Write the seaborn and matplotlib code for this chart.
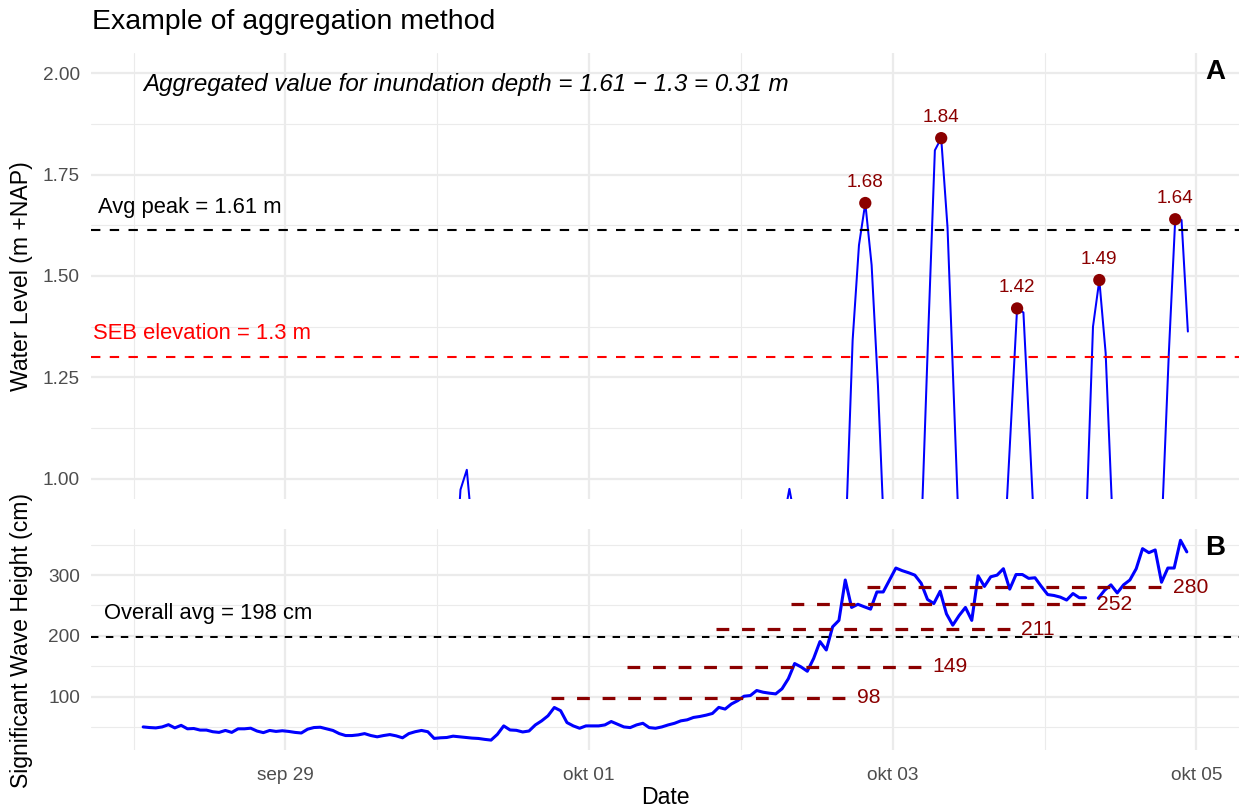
import numpy as np
import pandas as pd
import matplotlib
matplotlib.use("Agg")
import matplotlib.pyplot as plt
import matplotlib.transforms as mtransforms
import seaborn as sns

# ---------------------------------------------------------------------------
# Water level (m +NAP), hourly readings at hh:40, one list per day
# ---------------------------------------------------------------------------
level_start = "2024-09-28 00:40"
level_sep28 = [-0.55, -0.70, -0.45, 0.05, 0.50, 0.70, 0.55, 0.30, 0.05, -0.20, -0.40, -0.60,
               -0.72, -0.50, -0.05, 0.40, 0.68, 0.75, 0.58, 0.32, 0.08, -0.18, -0.40, -0.58]
level_sep29 = [-0.70, -0.55, -0.10, 0.35, 0.70, 0.82, 0.66, 0.40, 0.15, -0.10, -0.32, -0.52,
               -0.68, -0.60, -0.15, 0.32, 0.66, 0.72, 0.55, 0.30, 0.05, -0.20, -0.42, -0.60]
level_sep30 = [-0.68, -0.10, 0.73, 0.973, 1.022, 0.85, 0.60, 0.35, 0.10, -0.15, -0.38, -0.58,
               -0.55, -0.10, 0.40, 0.75, 0.86, 0.70, 0.45, 0.20, -0.05, -0.30, -0.50, -0.62]
level_okt01 = [-0.55, -0.20, 0.30, 0.70, 0.86, 0.88, 0.70, 0.45, 0.20, -0.05, -0.30, -0.50,
               -0.62, -0.45, 0.00, 0.45, 0.78, 0.90, 0.88, 0.70, 0.45, 0.20, -0.05, -0.28]
level_okt02 = [-0.45, -0.55, -0.30, 0.15, 0.50, 0.72, 0.89, 0.975, 0.89, 0.60, 0.30, 0.05,
               -0.15, -0.30, -0.10, 0.40, 0.90, 1.342, 1.576, 1.68, 1.527, 1.23, 0.85, 0.50]
level_okt03 = [0.15, -0.15, -0.20, 0.40, 0.93, 1.38, 1.81, 1.84, 1.62, 1.20, 0.78, 0.40,
               0.10, -0.10, -0.20, 0.05, 0.50, 0.83, 1.124, 1.42, 1.41, 1.10, 0.78, 0.45]
level_okt04 = [0.15, -0.10, -0.25, -0.05, 0.35, 0.65, 0.92, 1.375, 1.49, 1.31, 0.93, 0.60,
               0.30, 0.05, -0.15, -0.10, 0.25, 0.60, 0.93, 1.313, 1.64, 1.638, 1.363]

# High-water peaks used for the aggregation
peak_times = ["2024-10-02 19:40", "2024-10-03 07:40", "2024-10-03 19:40",
              "2024-10-04 08:40", "2024-10-04 20:40"]
peak_values = [1.68, 1.84, 1.42, 1.49, 1.64]
seb_elevation = 1.3

# ---------------------------------------------------------------------------
# Significant wave height (cm), hourly readings at hh:30 (NaN = missing)
# ---------------------------------------------------------------------------
wave_start = "2024-09-28 01:30"
wave_height = [
    50, 49, 48.4, 50, 53.7, 48.4, 52.6, 46.9, 47.4, 44.8, 44.8, 42.1, 41, 44.2, 41, 46.9,
    46.9, 47.9, 43.2, 40.6, 44.2, 42.6, 43.7, 42.6, 41, 40, 46.3, 49, 49.5, 46.9, 44.2, 39,
    35.8, 35.8, 36.9, 39, 35.8, 33.7, 35.8, 37.4, 35.3, 32.1, 39, 42.1, 44.2, 42.1, 31.1, 32.1,
    32.6, 34.8, 33.7, 32.6, 31.6, 31.0, 29.5, 28.3,
    37.8, 51.7, 45, 44.4, 41.7, 43.3, 53.3, 60, 68.3, 82, 76.7, 57.2, 51.7, 47.8, 51.7, 51.7,
    51.7, 53.3, 58.9, 54.4, 50, 48.9, 53.3, 56, 48.9, 47.8, 50, 53.3, 56, 60, 61.7, 65.6,
    67.2, 69.4, 72.2, 82.2, 79.4, 87.8, 93.3, 100.6, 101.7, 110, 107.2, 105.6, 104.4, 112.8,
    129.4, 154.4, 148.9, 141.7, 162.8, 190.6, 176.7,
    214.9, 225.5, 292, 246.8, 252, 247.9, 244, 272.3, 272.3, 292, 311.7, 307.4, 304, 300,
    286.7, 260, 253.2, 273.4, 236.2, 217.6, 233.5, 246.8, 225.5, 298.9, 281.4, 297.3, 300,
    310.6, 277, 301, 301, 294.7, 295.7, 281.4, 268, 266.5, 263.8, 259, 269.7, 262.8, 262.8,
    np.nan,
    262, 275, 284, 270.7, 284, 292, 310.6, 343.6, 337, 341.5, 288.3, 311.7, 311.7, 357.4, 338.3,
]
overall_avg = 198

# 48-hour averaging windows preceding each peak
window_starts = ["2024-09-30 18:00", "2024-10-01 06:00", "2024-10-01 20:00",
                 "2024-10-02 08:00", "2024-10-02 20:00"]
window_avg = [98, 149, 211, 252, 280]
window_hours = 48

# Axis ticks
tick_dates = ["2024-09-29", "2024-10-01", "2024-10-03", "2024-10-05"]
tick_labels = ["sep 29", "okt 01", "okt 03", "okt 05"]
minor_dates = ["2024-09-28", "2024-09-30", "2024-10-02", "2024-10-04"]

# ---------------------------------------------------------------------------
# Data frames
# ---------------------------------------------------------------------------
level_values = (level_sep28 + level_sep29 + level_sep30 + level_okt01
                + level_okt02 + level_okt03 + level_okt04)
level = pd.DataFrame({
    "time": pd.date_range(level_start, periods=len(level_values), freq="h"),
    "level": level_values,
})
peaks = pd.DataFrame({"time": pd.to_datetime(peak_times), "level": peak_values})

waves = pd.DataFrame({
    "time": pd.date_range(wave_start, periods=len(wave_height), freq="h"),
    "hs": wave_height,
})
# separate runs so missing readings leave a gap in the line
waves["run"] = waves["hs"].isna().cumsum()
waves = waves.dropna()

avg_peak = float(np.mean(peak_values))
inundation = avg_peak - seb_elevation

# ---------------------------------------------------------------------------
# Styling
# ---------------------------------------------------------------------------
sns.set_style("whitegrid")
plt.rcParams["font.family"] = ["Liberation Sans", "DejaVu Sans"]
plt.rcParams["text.color"] = "black"
grid_col = "#EBEBEB"
tick_col = "#4D4D4D"
dark_red = "#8B0000"

fig = plt.figure(figsize=(12.45, 8.09), dpi=100)
axA = fig.add_axes([0.07309, 0.38319, 0.92209, 0.55130])
axB = fig.add_axes([0.07309, 0.07293, 0.92209, 0.27318])

t0, t1 = waves["time"].min(), waves["time"].max()
pad = (t1 - t0) * 0.05
xlim = (t0 - pad, t1 + pad)

for ax in (axA, axB):
    ax.set_xlim(xlim)
    ax.set_xticks(pd.to_datetime(tick_dates))
    ax.set_xticks(pd.to_datetime(minor_dates), minor=True)
    ax.grid(which="major", color=grid_col, linewidth=1.6)
    ax.grid(which="minor", color=grid_col, linewidth=0.8)
    ax.set_axisbelow(True)
    for s in ax.spines.values():
        s.set_visible(False)
    ax.tick_params(which="both", length=0, colors=tick_col, labelsize=13.7)
    ax.tick_params(axis="y", pad=8)
    ax.tick_params(axis="x", pad=12)

# ---------------------------------------------------------------------------
# Panel A: water level
# ---------------------------------------------------------------------------
sns.lineplot(data=level, x="time", y="level", ax=axA, color="#0000FF",
             linewidth=1.45, estimator=None, legend=False)
sns.scatterplot(data=peaks, x="time", y="level", ax=axA, color=dark_red,
                s=78, edgecolor="none", zorder=5, legend=False)
axA.set_xlabel("")
axA.set_ylabel("")
axA.set_xlim(xlim)
axA.set_ylim(0.95, 2.05)
axA.set_yticks([1.00, 1.25, 1.50, 1.75, 2.00])
axA.set_yticks([1.125, 1.375, 1.625, 1.875], minor=True)
axA.set_yticklabels([f"{v:.2f}" for v in [1.00, 1.25, 1.50, 1.75, 2.00]])
axA.set_xticks(pd.to_datetime(tick_dates))
axA.set_xticklabels([])

axA.axhline(avg_peak, color="black", linewidth=1.5, dashes=(4.5, 4.5))
axA.axhline(seb_elevation, color="#FF0000", linewidth=1.5, dashes=(4.5, 4.5))

for t, v in zip(peaks["time"], peaks["level"]):
    axA.annotate(f"{v:.2f}", xy=(t, v), xytext=(0, 15), textcoords="offset points",
                 ha="center", va="center", color=dark_red, fontsize=13.6)

blendA = mtransforms.blended_transform_factory(axA.transAxes, axA.transData)
axA.annotate(f"Avg peak = {avg_peak:.2f} m", xy=(0.006, avg_peak), xycoords=blendA,
             xytext=(0, 16), textcoords="offset points", ha="left", va="center",
             fontsize=15.8, color="black")
axA.annotate(f"SEB elevation = {seb_elevation} m", xy=(0.0017, seb_elevation),
             xycoords=blendA, xytext=(0, 17), textcoords="offset points",
             ha="left", va="center", fontsize=15.8, color="#FF0000")
axA.text(t0, 2.0, f"Aggregated value for inundation depth = {avg_peak:.2f} \u2212 "
         f"{seb_elevation} = {inundation:.2f} m",
         ha="left", va="top", fontsize=17.4, style="italic", color="black")
axA.text(0.9878, 0.957, "A", transform=axA.transAxes, ha="right", va="center",
         fontsize=20, fontweight="bold", color="black")

# ---------------------------------------------------------------------------
# Panel B: significant wave height
# ---------------------------------------------------------------------------
sns.lineplot(data=waves, x="time", y="hs", units="run", estimator=None, ax=axB,
             color="#0000FF", linewidth=2.2, legend=False)
axB.set_xlabel("")
axB.set_ylabel("")
axB.set_xlim(xlim)
axB.set_ylim(12, 376)
axB.set_yticks([100, 200, 300])
axB.set_yticks([50, 150, 250, 350], minor=True)
axB.set_xticks(pd.to_datetime(tick_dates))
axB.set_xticklabels(tick_labels)

axB.axhline(overall_avg, color="black", linewidth=1.45, dashes=(3.7, 3.7))
blendB = mtransforms.blended_transform_factory(axB.transAxes, axB.transData)
axB.annotate(f"Overall avg = {overall_avg} cm", xy=(0.0113, overall_avg), xycoords=blendB,
             xytext=(0, 17), textcoords="offset points", ha="left", va="center",
             fontsize=15.8, color="black")

for start, v in zip(pd.to_datetime(window_starts), window_avg):
    end = start + pd.Timedelta(hours=window_hours)
    axB.plot([start, end], [v, v], color=dark_red, linewidth=2.3, dashes=(4, 4))
    axB.annotate(f"{v}", xy=(end, v), xytext=(1.5, 0), textcoords="offset points",
                 ha="left", va="center", color=dark_red, fontsize=15.2)

axB.text(0.9878, 0.914, "B", transform=axB.transAxes, ha="right", va="center",
         fontsize=20, fontweight="bold", color="black")

# ---------------------------------------------------------------------------
# Titles
# ---------------------------------------------------------------------------
fig.text(92 / 1245, 1 - 22 / 809, "Example of aggregation method", ha="left",
         va="center", fontsize=20.4, color="black")
fig.text(22 / 1245, 1 - 276 / 809, "Water Level (m +NAP)", rotation=90,
         ha="center", va="center", fontsize=16.6, color="black")
fig.text(22 / 1245, 1 - 640 / 809, "Significant Wave Height (cm)", rotation=90,
         ha="center", va="center", fontsize=16.6, color="black")
fig.text(665 / 1245, 1 - 797 / 809, "Date", ha="center", va="center", fontsize=16.6,
         color="black")

fig.savefig("out.png", dpi=100)
